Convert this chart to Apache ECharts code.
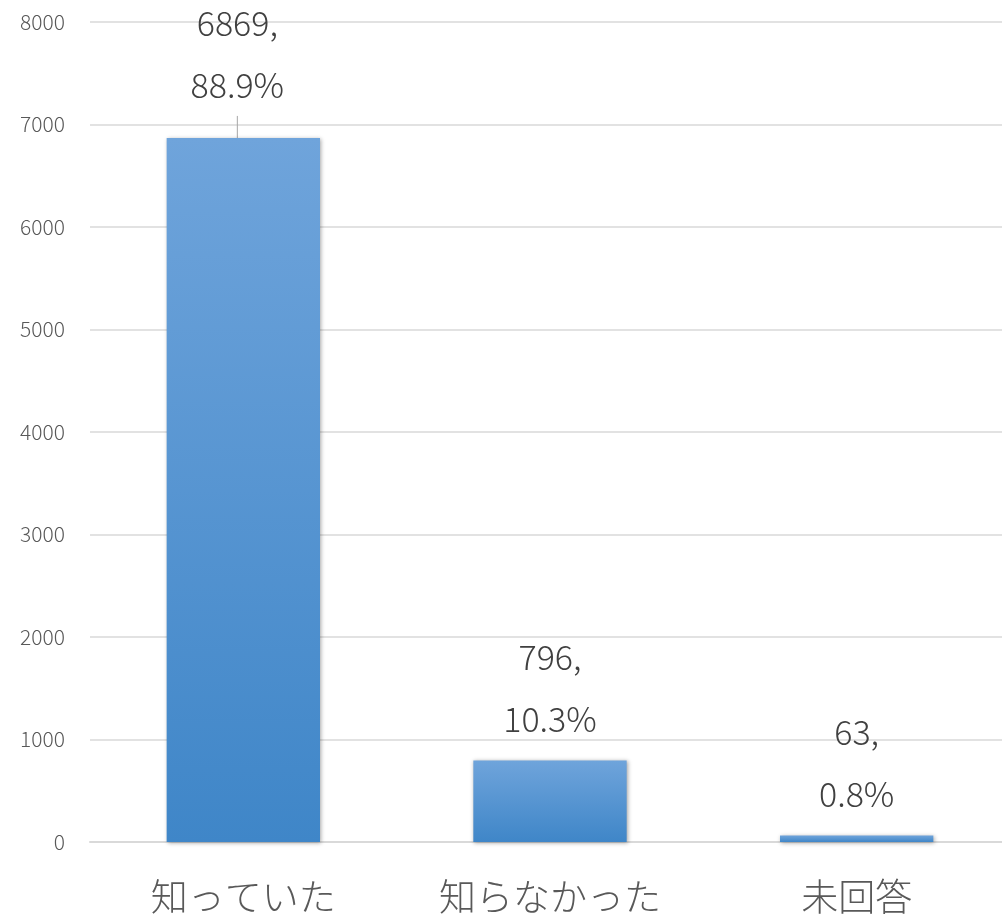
<!DOCTYPE html>
<html><head><meta charset="utf-8">
<script src="https://cdn.jsdelivr.net/npm/echarts@6/dist/echarts.min.js"></script>
<style>html,body{margin:0;padding:0;background:#fff;overflow:hidden}#c{width:1012px;height:915px}</style>
</head><body><div id="c"></div>
<script>
const categories = ['知っていた', '知らなかった', '未回答'];
const counts = [6869, 796, 63];
const percents = ['88.9%', '10.3%', '0.8%'];
const yTicks = {min: 0, max: 8000, interval: 1000};

const font = '"Noto Sans CJK JP", "Noto Sans", sans-serif';
const chart = echarts.init(document.getElementById('c'));
chart.setOption({
  animation: false,
  grid: {left: 90, right: 2, top: 22, bottom: 73, containLabel: false},
  xAxis: {
    type: 'category', data: categories,
    axisLine: {lineStyle: {color: '#d9d9d9', width: 2}},
    axisTick: {show: false},
    axisLabel: {fontFamily: font, fontSize: 37, fontWeight: 300, color: '#595959', margin: 36}
  },
  yAxis: {
    type: 'value', min: yTicks.min, max: yTicks.max, interval: yTicks.interval,
    axisLine: {show: false}, axisTick: {show: false},
    splitLine: {lineStyle: {color: '#d9d9d9', width: 1.5}},
    axisLabel: {fontFamily: font, fontSize: 21, fontWeight: 300, color: '#595959', margin: 25,
      formatter: v => String(v)}
  },
  series: [{
    type: 'bar', barWidth: '50%',
    data: counts.map((v, i) => i === 0
      ? {value: v, labelLine: {show: true, lineStyle: {color: '#a6a6a6', width: 1}}}
      : {value: v}),
    itemStyle: {
      color: new echarts.graphic.LinearGradient(0, 0, 0, 1, [
        {offset: 0, color: '#6fa4db'}, {offset: 1, color: '#3f86c8'}
      ]),
      shadowColor: 'rgba(0,0,0,0.35)', shadowBlur: 4, shadowOffsetX: 1, shadowOffsetY: 1
    },
    label: {
      show: true, position: 'top', distance: 10,
      fontFamily: font, fontSize: 34, fontWeight: 300, color: '#404040', lineHeight: 62,
      formatter: p => counts[p.dataIndex] + ',\n' + percents[p.dataIndex]
    },
    labelLine: {show: false},
    labelLayout: p => p.dataIndex === 0 ? {dx: -6, dy: -12} : {}
  }]
});
</script></body></html>
